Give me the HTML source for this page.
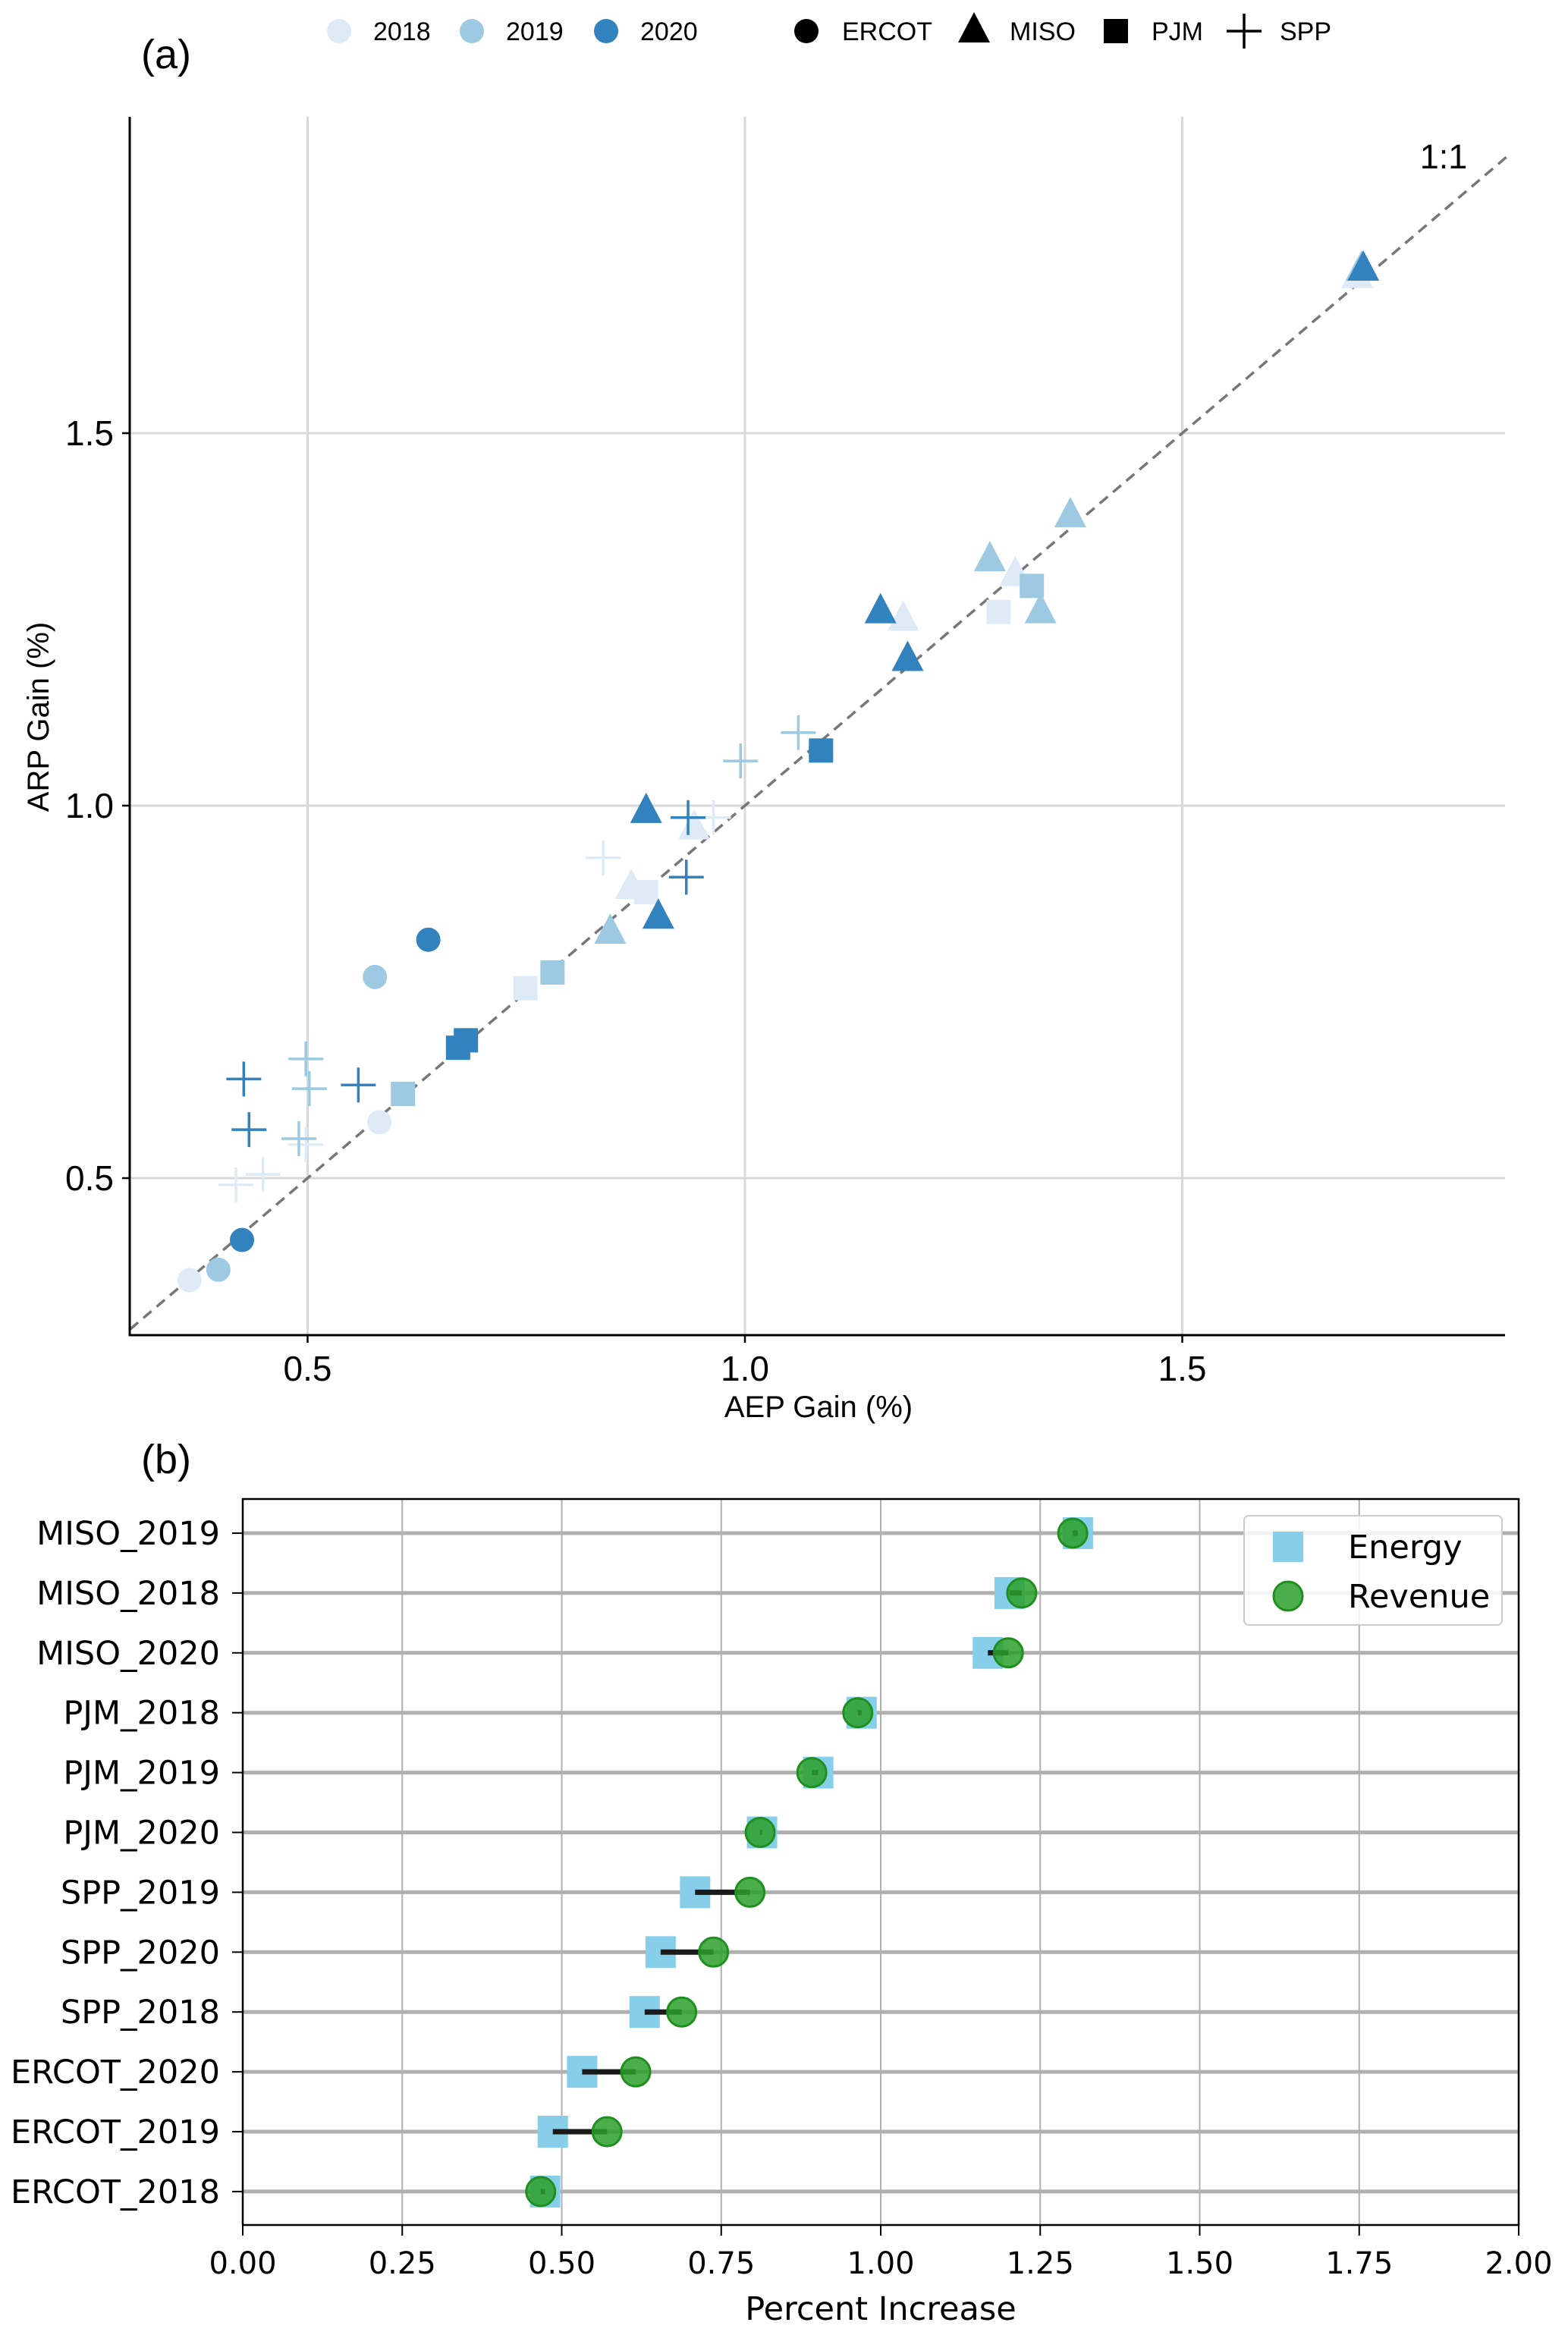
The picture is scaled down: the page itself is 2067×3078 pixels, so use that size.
<!DOCTYPE html>
<html><head><meta charset="utf-8"><style>
html,body{margin:0;padding:0;background:#fff;}
svg{display:block;}
.a{font-family:"Liberation Sans",Arial,sans-serif;}
.d{font-family:"DejaVu Sans",sans-serif;}
</style></head><body>
<svg id="fig" width="2067" height="3078" viewBox="0 0 2067 3078" xmlns="http://www.w3.org/2000/svg">
<g id="pa"></g>
<g id="pb"></g>
</svg>
<script>
// ---- Panel (a) data ----
const aYears=['2018','2019','2020'];
const aYearColors=['#deebf7','#9ecae1','#3182bd'];
const aIsos=['ERCOT','MISO','PJM','SPP'];
const ercotAep=[[0.365,0.582],[0.398,0.577],[0.425,0.638]];
const ercotArp=[[0.363,0.575],[0.377,0.770],[0.417,0.820]];
const misoAep=[[1.181,1.309,0.942,0.870,1.700],[1.280,1.372,1.338,0.846,1.705],[1.155,1.186,0.887,0.901,1.707]];
const misoArp=[[1.250,1.310,0.970,0.890,1.710],[1.330,1.389,1.260,0.830,1.720],[1.260,1.196,0.992,0.850,1.720]];
const pjmAep=[[1.290,0.887,0.749],[1.328,0.780,0.609],[1.087,0.681,0.672]];
const pjmArp=[[1.260,0.884,0.755],[1.295,0.776,0.613],[1.074,0.685,0.675]];
const sppAep=[[0.418,0.449,0.498,0.838,0.964],[0.498,0.502,0.490,1.061,0.995],[0.427,0.433,0.558,0.935,0.933]];
const sppArp=[[0.491,0.505,0.545,0.930,0.984],[0.660,0.620,0.553,1.098,1.060],[0.633,0.565,0.625,0.984,0.904]];
const aXTicks=[0.5,1.0,1.5];
const aYTicks=[0.5,1.0,1.5];

// ---- Panel (b) data ----
const bCats=['MISO_2019','MISO_2018','MISO_2020','PJM_2018','PJM_2019','PJM_2020','SPP_2019','SPP_2020','SPP_2018','ERCOT_2020','ERCOT_2019','ERCOT_2018'];
const bEnergy=[1.309,1.202,1.168,0.970,0.902,0.814,0.709,0.655,0.630,0.532,0.486,0.474];
const bRevenue=[1.301,1.221,1.200,0.964,0.892,0.811,0.795,0.738,0.688,0.616,0.571,0.467];
const bXTicks=[0,0.25,0.5,0.75,1.0,1.25,1.5,1.75,2.0];
const bXTickLabels=['0.00','0.25','0.50','0.75','1.00','1.25','1.50','1.75','2.00'];

const NS='http://www.w3.org/2000/svg';
function mk(parent,tag,attrs,text){const e=document.createElementNS(NS,tag);for(const k in attrs)e.setAttribute(k,attrs[k]);if(text!==undefined)e.textContent=text;parent.appendChild(e);return e;}

// Panel a axes
const ax={l:171,r:1984,t:154,b:1760};
const xa=v=>405.5+(v-0.5)*1153;
const ya=v=>1553-(v-0.5)*982;
const pa=document.getElementById('pa');
aXTicks.forEach(v=>{const l=mk(pa,'line',{x1:xa(v),x2:xa(v),y1:ax.t,y2:ax.b,stroke:'#d9d9d9','stroke-width':3});

mk(pa,'line',{x1:xa(v),x2:xa(v),y1:ax.b,y2:ax.b+10,stroke:'#000','stroke-width':2.5});
const t=mk(pa,'text',{x:xa(v),y:1820,'text-anchor':'middle','font-size':46,class:'a'},v.toFixed(1));
});
aYTicks.forEach(v=>{const l=mk(pa,'line',{x1:ax.l,x2:ax.r,y1:ya(v),y2:ya(v),stroke:'#d9d9d9','stroke-width':3});

mk(pa,'line',{x1:ax.l-10,x2:ax.l,y1:ya(v),y2:ya(v),stroke:'#000','stroke-width':2.5});
const t=mk(pa,'text',{x:150,y:ya(v)+16,'text-anchor':'end','font-size':46,class:'a'},v.toFixed(1));
});
// 1:1 line
const lo=0.297,hi=1.872;
const ol=mk(pa,'line',{x1:xa(lo),y1:ya(lo),x2:xa(hi),y2:ya(hi),stroke:'#777','stroke-width':3.5,'stroke-dasharray':'14,9'});

const ot=mk(pa,'text',{x:1903,y:222,'text-anchor':'middle','font-size':45,class:'a'},'1:1');


function marker(g,shape,cx,cy,color){let e;
 if(shape==='circle')e=mk(g,'circle',{cx:cx,cy:cy,r:16,fill:color});
 else if(shape==='tri')e=mk(g,'polygon',{points:`${cx},${cy-25} ${cx+21},${cy+15} ${cx-21},${cy+15}`,fill:color});
 else if(shape==='sq')e=mk(g,'rect',{x:cx-16,y:cy-16,width:32,height:32,fill:color});
 else e=mk(g,'path',{d:`M${cx-23},${cy}H${cx+23}M${cx},${cy-23}V${cy+23}`,stroke:color,'stroke-width':3.5,fill:'none'});
 return e;}
const sets=[['circle',ercotAep,ercotArp,'ercot-point'],['tri',misoAep,misoArp,'miso-point'],['sq',pjmAep,pjmArp,'pjm-point'],['plus',sppAep,sppArp,'spp-point']];
for(let y=0;y<3;y++){sets.forEach(s=>{s[1][y].forEach((xv,i)=>{const e=marker(pa,s[0],xa(xv),ya(s[2][y][i]),aYearColors[y]);
});});}
// spines
mk(pa,'line',{x1:ax.l,x2:ax.l,y1:ax.t,y2:ax.b+1,stroke:'#000','stroke-width':3});
mk(pa,'line',{x1:ax.l-1,x2:ax.r,y1:ax.b,y2:ax.b,stroke:'#000','stroke-width':3});
let t=mk(pa,'text',{x:1079,y:1868,'text-anchor':'middle','font-size':40,class:'a'},'AEP Gain (%)');

t=mk(pa,'text',{x:0,y:0,'text-anchor':'middle','font-size':40,class:'a',transform:'translate(64,945) rotate(-90)'},'ARP Gain (%)');

t=mk(pa,'text',{x:186,y:90,'font-size':54,class:'a'},'(a)');

// legend a
const lg=mk(pa,'g',{});
const lyx=[447,622,799];
aYears.forEach((yr,i)=>{const c=mk(lg,'circle',{cx:lyx[i],cy:41,r:16,fill:aYearColors[i]});
mk(lg,'text',{x:lyx[i]+45,y:53,'font-size':34,class:'a'},yr);});
const lsx=[1063,1284,1471,1640];const lshp=['circle','tri','sq','plus'];
aIsos.forEach((n,i)=>{const m=marker(lg,lshp[i],lsx[i],41,'#000');
mk(lg,'text',{x:lsx[i]+47,y:53,'font-size':34,class:'a'},n);});

// Panel b
const pb=document.getElementById('pb');
const bx={l:320,r:2002,t:1976,b:2933};
const xb=v=>bx.l+v*(bx.r-bx.l)/2;
const yb=i=>2021+i*78.9;
bXTicks.forEach((v,i)=>{const l=mk(pb,'line',{x1:xb(v),x2:xb(v),y1:bx.t,y2:bx.b,stroke:'#b0b0b0','stroke-width':2});

mk(pb,'line',{x1:xb(v),x2:xb(v),y1:bx.b,y2:bx.b+14,stroke:'#000','stroke-width':2});
const tt=mk(pb,'text',{x:xb(v),y:2997,'text-anchor':'middle','font-size':40,class:'d'},bXTickLabels[i]);
});
bCats.forEach((c,i)=>{const l=mk(pb,'line',{x1:bx.l,x2:bx.r,y1:yb(i),y2:yb(i),stroke:'#b0b0b0','stroke-width':5});

mk(pb,'line',{x1:bx.l-14,x2:bx.l,y1:yb(i),y2:yb(i),stroke:'#000','stroke-width':2});
const tt=mk(pb,'text',{x:290,y:yb(i)+15,'text-anchor':'end','font-size':43,class:'d'},c);
});
bCats.forEach((c,i)=>{
 const s=mk(pb,'rect',{x:xb(bEnergy[i])-20,y:yb(i)-21,width:40,height:42,fill:'#87ceeb'});
 
 const ln=mk(pb,'line',{x1:xb(bEnergy[i]),x2:xb(bRevenue[i]),y1:yb(i),y2:yb(i),stroke:'#1a1a1a','stroke-width':7});
 
 const ci=mk(pb,'circle',{cx:xb(bRevenue[i]),cy:yb(i),r:19,fill:'rgba(44,160,44,0.85)',stroke:'#1f8f1f','stroke-width':3});
 
});
mk(pb,'rect',{x:bx.l,y:bx.t,width:bx.r-bx.l,height:bx.b-bx.t,fill:'none',stroke:'#000','stroke-width':2.5});
const bl=mk(pb,'g',{});
mk(bl,'rect',{x:1640,y:1998,width:340,height:144,rx:6,fill:'rgba(255,255,255,0.85)',stroke:'#ccc','stroke-width':2});
mk(bl,'rect',{x:1678,y:2019,width:40,height:40,fill:'#87ceeb'});
mk(bl,'text',{x:1777,y:2054,'font-size':43,class:'d'},'Energy');
mk(bl,'circle',{cx:1698,cy:2104,r:19,fill:'rgba(44,160,44,0.85)',stroke:'#1f8f1f','stroke-width':3});
mk(bl,'text',{x:1777,y:2119,'font-size':43,class:'d'},'Revenue');
t=mk(pb,'text',{x:1161,y:3058,'text-anchor':'middle','font-size':43,class:'d'},'Percent Increase');

t=mk(pb,'text',{x:186,y:1942,'font-size':54,class:'a'},'(b)');

</script>
</body></html>
